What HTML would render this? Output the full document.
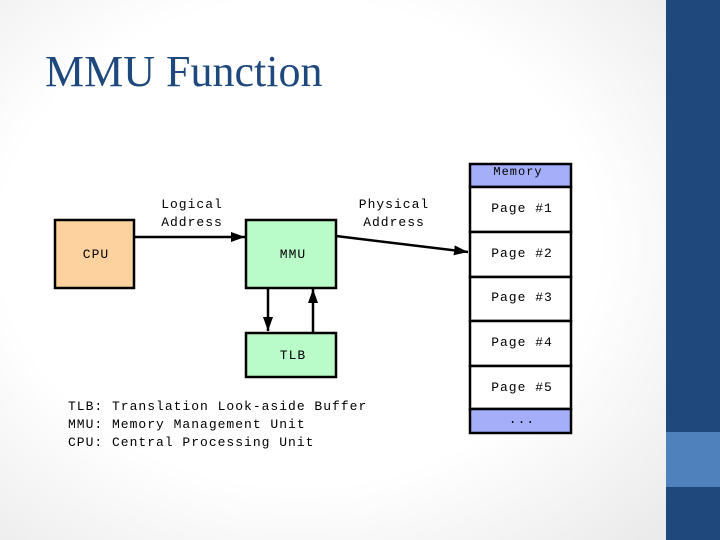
<!DOCTYPE html>
<html><head><meta charset="utf-8"><style>
html,body{margin:0;padding:0;width:720px;height:540px;overflow:hidden;background:#fff}
</style></head><body>
<svg width="720" height="540" xmlns="http://www.w3.org/2000/svg">
<defs>
<radialGradient id="bg" cx="0.45" cy="0.45" r="0.75">
<stop offset="0.6" stop-color="#ffffff"/><stop offset="1" stop-color="#ebebeb"/>
</radialGradient>
<marker id="ah" markerWidth="14" markerHeight="10" refX="14" refY="5" orient="auto" markerUnits="userSpaceOnUse">
<path d="M0,0 L14,5 L0,10 z" fill="#000"/></marker>
</defs>
<rect x="0" y="0" width="666" height="540" fill="url(#bg)"/>
<rect x="666" y="0" width="54" height="540" fill="#1f497d"/>
<rect x="666" y="432" width="54" height="55" fill="#4f81bd"/>
<text x="45" y="86" font-family="Liberation Serif, serif" font-size="44" fill="#1f497d">MMU Function</text>
<g font-family="Liberation Mono, monospace" font-size="13" fill="#000" letter-spacing="1">
<rect x="55" y="220" width="79" height="68" fill="#fed29e" stroke="#000" stroke-width="2.5"/>
<text x="96" y="258" text-anchor="middle">CPU</text>
<rect x="246" y="220" width="90" height="68" fill="#b9fcc9" stroke="#000" stroke-width="2.5"/>
<text x="293" y="258" text-anchor="middle">MMU</text>
<rect x="246" y="333" width="90" height="44" fill="#b9fcc9" stroke="#000" stroke-width="2.5"/>
<text x="293" y="359" text-anchor="middle">TLB</text>
<text x="192" y="208" text-anchor="middle">Logical</text>
<text x="192" y="226" text-anchor="middle">Address</text>
<text x="394" y="208" text-anchor="middle">Physical</text>
<text x="394" y="226" text-anchor="middle">Address</text>
<line x1="134" y1="237" x2="245" y2="237" stroke="#000" stroke-width="2.5" marker-end="url(#ah)"/>
<line x1="336" y1="236" x2="468" y2="252" stroke="#000" stroke-width="2.5" marker-end="url(#ah)"/>
<line x1="268" y1="288" x2="268" y2="331" stroke="#000" stroke-width="2.5" marker-end="url(#ah)"/>
<line x1="313" y1="333" x2="313" y2="289" stroke="#000" stroke-width="2.5" marker-end="url(#ah)"/>
<rect x="470" y="164" width="101" height="23" fill="#a4aef9" stroke="#000" stroke-width="2.5"/>
<text x="518" y="175" text-anchor="middle" font-size="12">Memory</text>
<rect x="470" y="187" width="101" height="45" fill="#fff" stroke="#000" stroke-width="2.5"/>
<text x="522" y="212" text-anchor="middle">Page #1</text>
<rect x="470" y="232" width="101" height="45" fill="#fff" stroke="#000" stroke-width="2.5"/>
<text x="522" y="257" text-anchor="middle">Page #2</text>
<rect x="470" y="277" width="101" height="44" fill="#fff" stroke="#000" stroke-width="2.5"/>
<text x="522" y="301" text-anchor="middle">Page #3</text>
<rect x="470" y="321" width="101" height="45" fill="#fff" stroke="#000" stroke-width="2.5"/>
<text x="522" y="346" text-anchor="middle">Page #4</text>
<rect x="470" y="366" width="101" height="43" fill="#fff" stroke="#000" stroke-width="2.5"/>
<text x="522" y="391" text-anchor="middle">Page #5</text>
<rect x="470" y="409" width="101" height="24" fill="#a4aef9" stroke="#000" stroke-width="2.5"/>
<text x="522" y="423" text-anchor="middle">...</text>
<text x="68" y="410">TLB: Translation Look-aside Buffer</text>
<text x="68" y="428">MMU: Memory Management Unit</text>
<text x="68" y="446">CPU: Central Processing Unit</text>
</g>
</svg>
</body></html>
